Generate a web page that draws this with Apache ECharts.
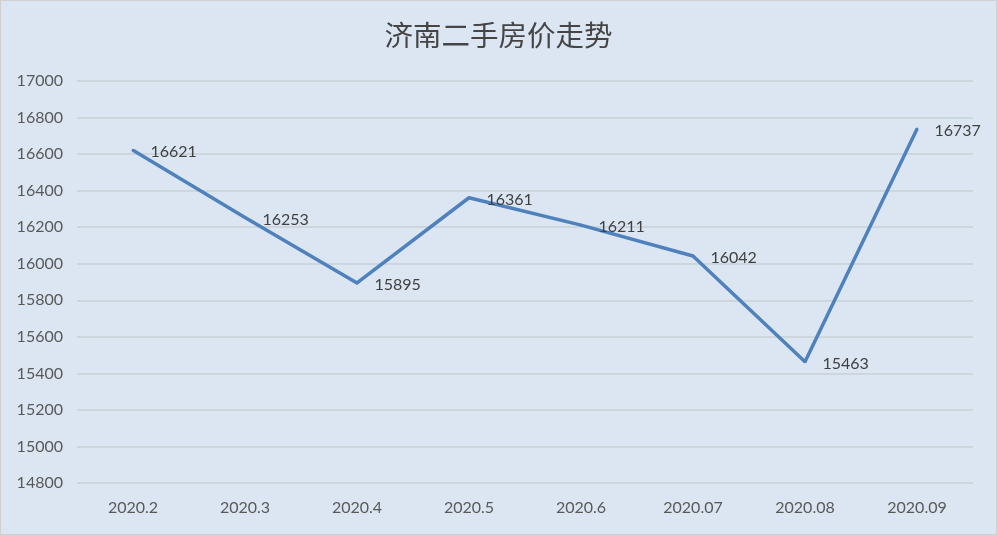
<!DOCTYPE html>
<html>
<head>
<meta charset="utf-8">
<script src="https://cdn.jsdelivr.net/npm/echarts@6/dist/echarts.min.js"></script>
<style>
  html, body { margin: 0; padding: 0; background: #fff; }
  #chart { width: 997px; height: 535px; box-sizing: border-box; border: 1px solid #d0d0d0; }
</style>
</head>
<body>
<div id="chart"></div>
<script>
// 月份
const months = ['2020.2', '2020.3', '2020.4', '2020.5', '2020.6', '2020.07', '2020.08', '2020.09'];
// 均价
const prices = [16621, 16253, 15895, 16361, 16211, 16042, 15463, 16737];

const chart = echarts.init(document.getElementById('chart'));
const option = {
    backgroundColor: '#dce6f2',
    animation: false,
    title: {
        text: '济南二手房价走势',
        left: 'center',
        top: 15,
        textStyle: {
            fontFamily: 'Noto Sans CJK SC',
            fontSize: 28.5,
            fontWeight: 'normal',
            color: '#454545'
        }
    },
    grid: { left: 76, right: 23, top: 80, bottom: 51 },
    xAxis: {
        type: 'category',
        data: months,
        boundaryGap: true,
        axisLine: { show: false },
        axisTick: { show: false },
        axisLabel: { color: '#595959', fontSize: 16, margin: 17, fontFamily: 'Lato' }
    },
    yAxis: {
        type: 'value',
        min: 14800,
        max: 17000,
        interval: 200,
        axisLine: { show: false },
        axisTick: { show: false },
        axisLabel: {
            color: '#595959', fontSize: 16, margin: 14, fontFamily: 'Lato',
            formatter: (v) => String(v)
        },
        splitLine: { lineStyle: { color: '#c9cfd6', width: 1.5 } }
    },
    series: [{
        type: 'line',
        data: prices,
        showSymbol: true,
        symbol: 'circle',
        symbolSize: 3,
        itemStyle: { color: '#4f81bd' },
        lineStyle: { color: '#4f81bd', width: 3.5 },
        label: {
            show: true,
            position: 'right',
            distance: 16,
            offset: [0, 2],
            color: '#404040',
            fontSize: 16,
            fontFamily: 'Lato'
        }
    }]
};
chart.setOption(option);
</script>
</body>
</html>
